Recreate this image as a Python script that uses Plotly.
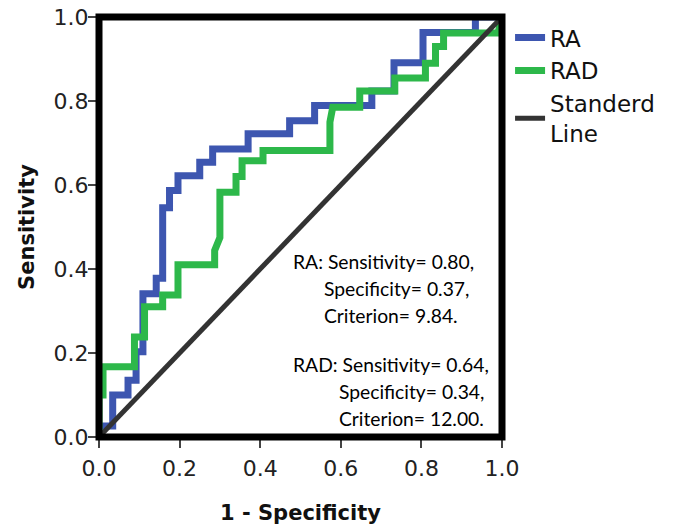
import plotly.graph_objects as go

# ROC vertices (1 - specificity, sensitivity)
ra_fpr = [0, 0, 0.034, 0.034, 0.072, 0.072, 0.092, 0.092, 0.109, 0.109, 0.142, 0.142,
          0.158, 0.158, 0.175, 0.175, 0.196, 0.196, 0.25, 0.25, 0.282, 0.282, 0.37, 0.37,
          0.473, 0.473, 0.535, 0.535, 0.677, 0.677, 0.732, 0.732, 0.804, 0.804, 0.934, 0.934, 1.0]
ra_tpr = [0, 0.026, 0.026, 0.10, 0.10, 0.135, 0.135, 0.203, 0.203, 0.341, 0.341, 0.378,
          0.378, 0.546, 0.546, 0.587, 0.587, 0.622, 0.622, 0.654, 0.654, 0.686, 0.686, 0.722,
          0.722, 0.753, 0.753, 0.789, 0.789, 0.824, 0.824, 0.891, 0.891, 0.963, 0.963, 1.0, 1.0]

rad_fpr = [0, 0, 0.01, 0.01, 0.088, 0.088, 0.113, 0.113, 0.158, 0.158, 0.196, 0.196,
           0.287, 0.287, 0.30, 0.30, 0.34, 0.34, 0.355, 0.355, 0.407, 0.407, 0.573, 0.573,
           0.58, 0.647, 0.647, 0.734, 0.734, 0.81, 0.81, 0.835, 0.835, 0.855, 0.855, 0.99, 1.0]
rad_tpr = [0, 0.10, 0.10, 0.167, 0.167, 0.238, 0.238, 0.31, 0.31, 0.338, 0.338, 0.41,
           0.41, 0.444, 0.475, 0.583, 0.583, 0.62, 0.62, 0.658, 0.658, 0.682, 0.682, 0.75,
           0.785, 0.785, 0.824, 0.824, 0.855, 0.855, 0.89, 0.89, 0.93, 0.93, 0.962, 0.962, 1.0]

ref_x = [0, 1]
ref_y = [0, 1]

series_names = ["RA", "RAD", "Standerd<br>Line"]
tick_vals = [0.0, 0.2, 0.4, 0.6, 0.8, 1.0]
tick_text = ["0.0", "0.2", "0.4", "0.6", "0.8", "1.0"]

notes = [
    ("RA: Sensitivity= 0.80,", 0.476, 0.418),
    ("Specificity= 0.37,", 0.553, 0.354),
    ("Criterion= 9.84.", 0.553, 0.290),
    ("RAD: Sensitivity= 0.64,", 0.476, 0.172),
    ("Specificity= 0.34,", 0.590, 0.108),
    ("Criterion= 12.00.", 0.590, 0.045),
]

fig = go.Figure()
fig.add_trace(go.Scatter(x=ra_fpr, y=ra_tpr, mode="lines", name=series_names[0],
                         line=dict(color="#3d56b0", width=7)))
fig.add_trace(go.Scatter(x=rad_fpr, y=rad_tpr, mode="lines", name=series_names[1],
                         line=dict(color="#2db84a", width=7)))
fig.add_trace(go.Scatter(x=ref_x, y=ref_y, mode="lines", name=series_names[2],
                         line=dict(color="#333333", width=5)))

fig.add_shape(type="rect", xref="paper", yref="paper", x0=0, y0=0, x1=1, y1=1,
              line=dict(color="black", width=7), layer="above")

for txt, xx, yy in notes:
    fig.add_annotation(x=xx, y=yy, xref="x", yref="y", text=txt, showarrow=False,
                       xanchor="left", yanchor="middle",
                       font=dict(family="Lato", size=19.3, color="black"))

axis_common = dict(range=[0, 1], tickvals=tick_vals, ticktext=tick_text,
                   showgrid=False, zeroline=False, showline=False, automargin=False,
                   ticks="outside", ticklen=10, tickwidth=1.5, tickcolor="#444",
                   ticklabeloverflow="allow",
                   tickfont=dict(family="DejaVu Sans", size=22, color="#222"))

fig.update_xaxes(**axis_common, ticklabelstandoff=2,
                 title=dict(text="1 - Specificity", standoff=24,
                            font=dict(family="DejaVu Sans", size=21, color="#111", weight="bold")))
fig.update_yaxes(**axis_common, ticklabelstandoff=-5,
                 title=dict(text="Sensitivity", standoff=13,
                            font=dict(family="DejaVu Sans", size=21, color="#111", weight="bold")))

fig.update_layout(
    width=676, height=526,
    margin=dict(l=99, r=174, t=17, b=89, autoexpand=False),
    plot_bgcolor="white", paper_bgcolor="white",
    legend=dict(x=1.02, y=1.002, xanchor="left", yanchor="top",
                font=dict(family="DejaVu Sans", size=23, color="#111"),
                bgcolor="rgba(0,0,0,0)", itemwidth=30, tracegroupgap=0),
    showlegend=True,
)

# remove the default page margin so the figure sits at the window's top-left corner
fig.write_html("out.html", config={"displayModeBar": False},
               post_script="document.body.style.margin='0px';")
